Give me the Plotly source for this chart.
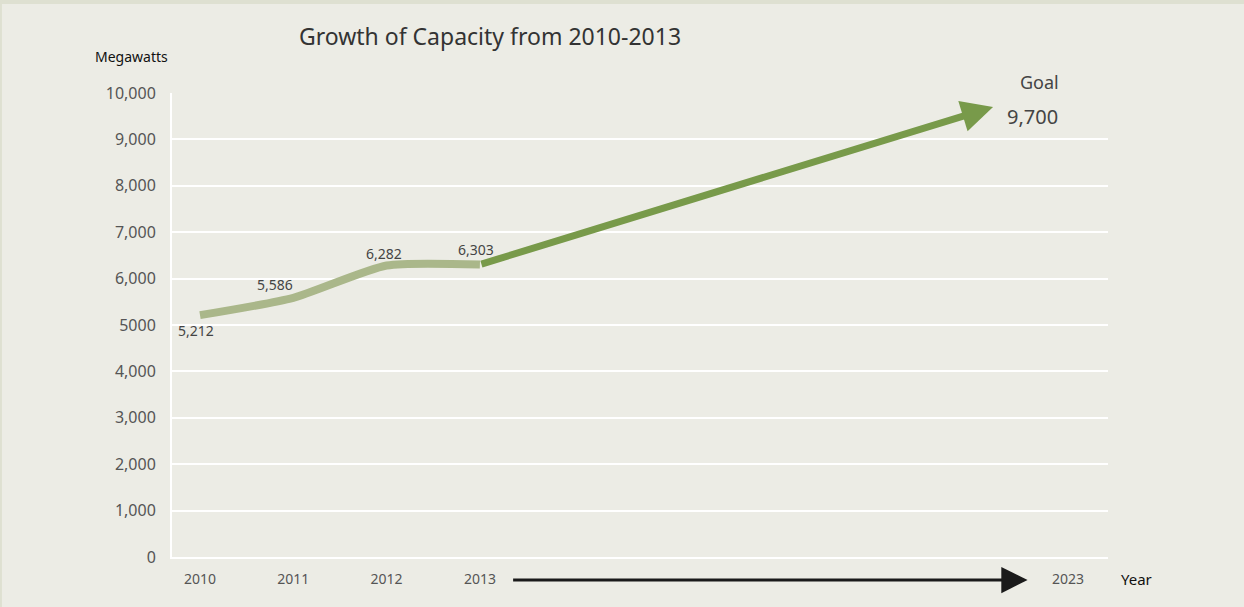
import plotly.graph_objects as go

# Installed capacity (megawatts) by year, and the long-term goal
years = ["2010", "2011", "2012", "2013"]
capacity_mw = [5212, 5586, 6282, 6303]
goal_year = "2023"
goal_mw = 9700

y_tick_values = [0, 1000, 2000, 3000, 4000, 5000, 6000, 7000, 8000, 9000, 10000]
y_tick_labels = ["0", "1,000", "2,000", "3,000", "4,000", "5000",
                 "6,000", "7,000", "8,000", "9,000", "10,000"]

# Horizontal layout: the observed years sit on evenly spaced slots,
# the goal is placed further out on a compressed stretch of the axis.
year_slot = {y: i for i, y in enumerate(years)}
goal_tip_slot = 8.5
goal_tick_slot = 9.3
axis_arrow_from, axis_arrow_to = 3.34, 8.87

BG = "#ECECE5"
LIGHT_GREEN = "#AAB78A"
DARK_GREEN = "#789A4A"
FONT = "Noto Sans"

x_pos = [year_slot[y] for y in years]

fig = go.Figure()
fig.add_trace(go.Scatter(
    x=x_pos, y=capacity_mw, mode="lines",
    line=dict(color=LIGHT_GREEN, width=8, shape="spline", smoothing=0.6),
    hoverinfo="skip", showlegend=False,
))

annotations = []

# Projection arrow from the last observed year up to the goal
annotations.append(dict(
    x=goal_tip_slot, y=goal_mw, xref="x", yref="y",
    ax=x_pos[-1], ay=capacity_mw[-1], axref="x", ayref="y",
    showarrow=True, arrowhead=2, arrowsize=0.9, arrowwidth=7,
    arrowcolor=DARK_GREEN, text="",
))

# Value labels next to each observed point
label_offsets = [(-4, -15), (-18, 13), (-3, 12), (-4, 15)]
for xp, v, (dx, dy) in zip(x_pos, capacity_mw, label_offsets):
    annotations.append(dict(
        x=xp, y=v, xref="x", yref="y", text=f"{v:,}", showarrow=False,
        xshift=dx, yshift=dy, font=dict(family=FONT, size=14, color="#444444"),
    ))

annotations.append(dict(
    x=goal_tip_slot, y=goal_mw, xref="x", yref="y", text="Goal",
    showarrow=False, xshift=46, yshift=25,
    font=dict(family=FONT, size=18, color="#444444"),
))
annotations.append(dict(
    x=goal_tip_slot, y=goal_mw, xref="x", yref="y", text=f"{goal_mw:,}",
    showarrow=False, xshift=39, yshift=-10,
    font=dict(family=FONT, size=20, color="#444444"),
))

# Black time arrow along the bottom, running toward the goal year
annotations.append(dict(
    x=axis_arrow_to, y=-0.0496, xref="x", yref="y domain",
    ax=axis_arrow_from, ay=-0.0496, axref="x", ayref="y domain",
    showarrow=True, arrowhead=2, arrowsize=1.75, arrowwidth=3,
    arrowcolor="#1a1a1a", text="",
))
annotations.append(dict(
    x=goal_tick_slot, y=-0.0474, xref="x", yref="paper", text=goal_year,
    xanchor="center", yanchor="middle", showarrow=False,
    font=dict(family=FONT, size=14, color="#555555"),
))

# Axis names
annotations.append(dict(
    x=-0.0438, y=1.0776, xref="paper", yref="paper", text="Megawatts",
    xanchor="center", yanchor="middle", showarrow=False,
    font=dict(family=FONT, size=14, color="#111111"),
))
annotations.append(dict(
    x=1.03, y=-0.0474, xref="paper", yref="paper", text="Year",
    xanchor="center", yanchor="middle", showarrow=False,
    font=dict(family=FONT, size=15, color="#111111"),
))

# Thin darker frame along the top and left edges
shapes = [
    dict(type="rect", xref="paper", yref="paper", x0=-0.1838, x1=1.1453,
         y0=1.1918, y1=1.2004, fillcolor="#DEE0D1", line_width=0, layer="below"),
    dict(type="rect", xref="paper", yref="paper", x0=-0.1838, x1=-0.1817,
         y0=-0.1078, y1=1.2004, fillcolor="#DEE0D1", line_width=0, layer="below"),
]

x0 = -(200 - 172) / 93.3
fig.update_layout(
    width=1244, height=607,
    margin=dict(l=172, r=136, t=93, b=50),
    paper_bgcolor=BG, plot_bgcolor=BG,
    font=dict(family=FONT, color="#555555"),
    title=dict(text="Growth of Capacity from 2010-2013", x=490 / 1244, xanchor="center",
               y=1 - 37 / 607, yanchor="middle",
               font=dict(family=FONT, size=23, color="#333333")),
    xaxis=dict(range=[x0, x0 + 936 / 93.3], tickvals=x_pos, ticktext=years,
               showgrid=False, zeroline=False, showline=True, linecolor="white",
               linewidth=2, ticks="", tickfont=dict(size=14, color="#555555"),
               ticklabelstandoff=8),
    yaxis=dict(range=[0, 10000], tickvals=y_tick_values, ticktext=y_tick_labels,
               showgrid=True, gridcolor="white", gridwidth=2, zeroline=False,
               showline=True, linecolor="white", linewidth=2, ticks="",
               tickfont=dict(size=16, color="#555555"), ticklabelstandoff=11),
    annotations=annotations,
    shapes=shapes,
    showlegend=False,
)

fig.write_html("out.html")
